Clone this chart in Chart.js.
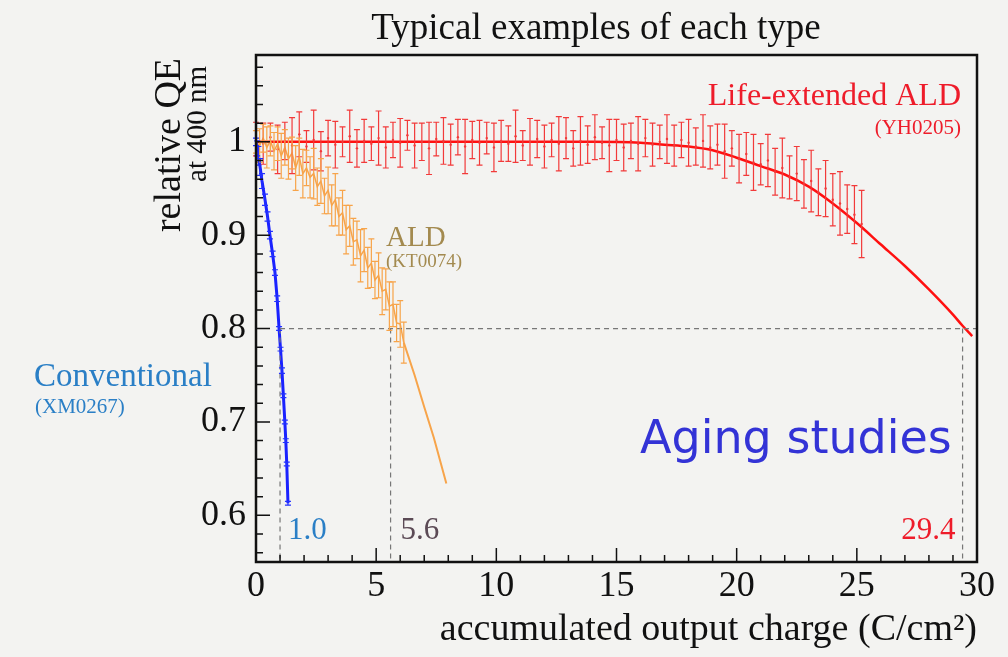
<!DOCTYPE html>
<html lang="en">
<head>
<meta charset="UTF-8" />
<title>Typical examples of each type</title>
<script src="https://cdn.jsdelivr.net/npm/chart.js"></script>
<style>
    html, body { margin: 0; padding: 0; background: #f3f3f1; }
    #wrap { width: 1008px; height: 657px; position: relative; }
</style>
</head>
<body>
<div id="wrap"><canvas id="qeChart"></canvas></div>
<script>
// ---- data ----
const yTickValues = [0.6, 0.7, 0.8, 0.9, 1.0];
const yTickLabels = ["0.6", "0.7", "0.8", "0.9", "1"];
const xTickValues = [0, 5, 10, 15, 20, 25, 30];
const xTickLabels = ["0", "5", "10", "15", "20", "25", "30"];

// Conventional (XM0267)
const convX = [0, 0.05, 0.1, 0.17, 0.25, 0.375, 0.48, 0.58, 0.69, 0.79, 0.88, 0.96, 1.02, 1.08, 1.14, 1.2, 1.24, 1.28, 1.33];
const convY = [1.0, 0.993, 0.985, 0.973, 0.958, 0.938, 0.92, 0.9, 0.88, 0.86, 0.832, 0.8, 0.778, 0.755, 0.728, 0.7, 0.68, 0.655, 0.613];
const convErr = [0.004, 0.008, 0.01, 0.009, 0.008, 0.006, 0.005, 0.004, 0.003, 0.003, 0.003, 0.002, 0.002, 0.003, 0.002, 0.002, 0.002, 0.002, 0.002];

// ALD (KT0074)
const aldX = [0, 0.15, 0.3, 0.45, 0.6, 0.75, 0.9, 1.05, 1.2, 1.35,
    1.5, 1.65, 1.8, 1.95, 2.1, 2.25, 2.4, 2.55, 2.7, 2.85,
    3.0, 3.15, 3.3, 3.45, 3.6, 3.75, 3.9, 4.05, 4.2, 4.35,
    4.5, 4.65, 4.8, 4.95, 5.1, 5.25, 5.4, 5.55, 5.7, 5.85,
    6.0, 6.15];
const aldY = [1.0, 0.996, 1.004, 0.994, 1.001, 0.99, 0.998, 0.985, 0.994, 0.982,
    0.988, 0.972, 0.984, 0.966, 0.972, 0.962, 0.966, 0.952, 0.958, 0.942,
    0.948, 0.932, 0.938, 0.92, 0.924, 0.906, 0.91, 0.893, 0.895, 0.878,
    0.884, 0.865, 0.87, 0.852, 0.857, 0.84, 0.842, 0.824, 0.826, 0.806,
    0.805, 0.785];
const aldErr = [0.012, 0.018, 0.015, 0.022, 0.016, 0.02, 0.018, 0.024, 0.019, 0.022,
    0.017, 0.024, 0.02, 0.026, 0.019, 0.022, 0.027, 0.02, 0.024, 0.019,
    0.025, 0.022, 0.028, 0.02, 0.024, 0.026, 0.022, 0.025, 0.02, 0.028,
    0.023, 0.022, 0.026, 0.02, 0.024, 0.025, 0.022, 0.026, 0.024, 0.02,
    0.025, 0.022];
const aldTailX = [6.15, 6.6, 7.0, 7.4, 7.92];
const aldTailY = [0.785, 0.75, 0.716, 0.683, 0.634];

// Life-extended ALD (YH0205)
const lifeX = [0.0, 0.3, 0.6, 0.9, 1.2, 1.5, 1.8, 2.1, 2.4, 2.7,
    3.0, 3.3, 3.6, 3.9, 4.2, 4.5, 4.8, 5.1, 5.4, 5.7,
    6.0, 6.3, 6.6, 6.9, 7.2, 7.5, 7.8, 8.1, 8.4, 8.7,
    9.0, 9.3, 9.6, 9.9, 10.2, 10.5, 10.8, 11.1, 11.4, 11.7,
    12.0, 12.3, 12.6, 12.9, 13.2, 13.5, 13.8, 14.1, 14.4, 14.7,
    15.0, 15.3, 15.6, 15.9, 16.2, 16.5, 16.8, 17.1, 17.4, 17.7,
    18.0, 18.3, 18.6, 18.9, 19.2, 19.5, 19.8, 20.1, 20.4, 20.7,
    21.0, 21.3, 21.6, 21.9, 22.2, 22.5, 22.8, 23.1, 23.4, 23.7,
    24.0, 24.3, 24.6, 24.9, 25.2];
const lifeY = [1.003, 0.998, 1.005, 0.992, 1.001, 0.996, 1.008, 0.995, 1.002, 0.99,
    1.004, 0.997, 1.0, 1.006, 0.993, 1.001, 0.998, 1.004, 0.994, 1.002,
    0.999, 1.007, 0.996, 1.0, 0.993, 1.003, 1.001, 0.997, 1.005, 0.995,
    1.002, 0.999, 1.004, 0.994, 1.001, 0.998, 1.006, 0.996, 1.0, 1.003,
    0.995, 1.002, 0.998, 1.004, 0.993, 1.001, 0.997, 1.005, 0.999, 0.996,
    1.002, 0.994, 1.001, 0.998, 1.004, 0.997, 1.0, 1.003, 0.996, 1.002,
    0.999, 0.995, 1.001, 0.994, 0.997, 0.99, 0.993, 0.982, 0.987, 0.978,
    0.976, 0.98, 0.968, 0.972, 0.962, 0.966, 0.955, 0.958, 0.946, 0.95,
    0.938, 0.934, 0.928, 0.922, 0.912];
const lifeErr = [0.018, 0.022, 0.015, 0.026, 0.02, 0.03, 0.024, 0.017, 0.032, 0.021,
    0.019, 0.025, 0.016, 0.028, 0.02, 0.023, 0.018, 0.029, 0.022, 0.019,
    0.026, 0.016, 0.024, 0.02, 0.028, 0.018, 0.025, 0.022, 0.019, 0.029,
    0.02, 0.024, 0.017, 0.026, 0.022, 0.019, 0.028, 0.016, 0.025, 0.02,
    0.023, 0.018, 0.029, 0.022, 0.019, 0.026, 0.02, 0.024, 0.017, 0.028,
    0.022, 0.025, 0.019, 0.029, 0.02, 0.023, 0.018, 0.026, 0.022, 0.019,
    0.025, 0.02, 0.028, 0.023, 0.022, 0.029, 0.019, 0.026, 0.023, 0.03,
    0.022, 0.028, 0.025, 0.032, 0.023, 0.029, 0.026, 0.033, 0.025, 0.03,
    0.028, 0.034, 0.026, 0.031, 0.036];
const lifeFitX = [0, 5, 10, 14, 16, 17, 18, 19, 20, 21, 22, 23, 24, 25, 26, 27, 28, 29, 29.4, 29.8];
const lifeFitY = [1.0, 1.0, 1.0, 1.0, 0.999, 0.997, 0.995, 0.991, 0.983, 0.974, 0.965, 0.952, 0.934, 0.913, 0.89, 0.867, 0.842, 0.815, 0.803, 0.792];

// 80% threshold and where each tube reaches it
const threshold = 0.8;
const crossX = [1.0, 5.6, 29.4];
const crossLabels = ["1.0", "5.6", "29.4"];

const Y_MIN = 0.55, Y_MAX = 1.093;
const SERIF = "'Liberation Serif', 'DejaVu Serif', serif";

function pts(xs, ys) { return xs.map((x, i) => ({ x: x, y: ys[i] })); }

const dashed = { borderColor: "#777", borderWidth: 1.2, borderDash: [5, 4], pointRadius: 0, showLine: true, fill: false };

const datasets = [
    Object.assign({ label: "thr", data: [{ x: crossX[0], y: threshold }, { x: 30, y: threshold }] }, dashed),
    Object.assign({ label: "v1", data: [{ x: crossX[0], y: threshold }, { x: crossX[0], y: Y_MIN }] }, dashed),
    Object.assign({ label: "v2", data: [{ x: crossX[1], y: threshold }, { x: crossX[1], y: Y_MIN }] }, dashed),
    Object.assign({ label: "v3", data: [{ x: crossX[2], y: threshold }, { x: crossX[2], y: Y_MIN }] }, dashed),
    { label: "Life-extended ALD", data: pts(lifeX, lifeY), errors: lifeErr, errColor: "#f23a3a",
      showLine: false, pointRadius: 1.2, pointBackgroundColor: "#f23a3a", pointBorderWidth: 0 },
    { label: "ALD", data: pts(aldX, aldY), errors: aldErr, errColor: "#f7a44a",
      showLine: true, borderColor: "#f7a44a", borderWidth: 1.5, pointRadius: 0 },
    { label: "ALD tail", data: pts(aldTailX, aldTailY), showLine: true, borderColor: "#f7a44a", borderWidth: 2, pointRadius: 0 },
    { label: "Life-extended fit", data: pts(lifeFitX, lifeFitY), showLine: true, borderColor: "#ff1010",
      borderWidth: 2.5, pointRadius: 0, tension: 0.4, cubicInterpolationMode: "monotone" },
    { label: "Conventional", data: pts(convX, convY), errors: convErr, errColor: "#2230ff",
      showLine: true, borderColor: "#1a22ff", borderWidth: 3, pointRadius: 0 }
];

// error bars, frame, inward ticks and text labels
const decoPlugin = {
    id: "deco",
    afterDatasetsDraw(chart) {
        const ctx = chart.ctx, xs = chart.scales.x, ys = chart.scales.y, a = chart.chartArea;
        ctx.save();
        chart.data.datasets.forEach(ds => {
            if (!ds.errors) return;
            ctx.strokeStyle = ds.errColor;
            ctx.lineWidth = 1.2;
            ds.data.forEach((p, i) => {
                const px = xs.getPixelForValue(p.x);
                const top = ys.getPixelForValue(p.y + ds.errors[i]);
                const bot = ys.getPixelForValue(p.y - ds.errors[i]);
                ctx.beginPath();
                ctx.moveTo(px, top); ctx.lineTo(px, bot);
                ctx.moveTo(px - 3, top); ctx.lineTo(px + 3, top);
                ctx.moveTo(px - 3, bot); ctx.lineTo(px + 3, bot);
                ctx.stroke();
            });
        });

        // frame
        ctx.strokeStyle = "#111";
        ctx.lineWidth = 2.5;
        ctx.strokeRect(a.left, a.top, a.right - a.left, a.bottom - a.top);

        // inward ticks
        ctx.lineWidth = 1.5;
        ctx.beginPath();
        for (let k = 0; k <= 30; k++) {
            const px = xs.getPixelForValue(k);
            const len = k % 5 === 0 ? 14 : 7;
            ctx.moveTo(px, a.bottom); ctx.lineTo(px, a.bottom - len);
        }
        for (let k = 28; k <= 54; k++) {
            const v = k / 50;
            const py = ys.getPixelForValue(v);
            if (py < a.top) continue;
            const len = k % 5 === 0 ? 14 : 7;
            ctx.moveTo(a.left, py); ctx.lineTo(a.left + len, py);
        }
        ctx.stroke();

        // title
        ctx.fillStyle = "#111";
        ctx.textAlign = "center";
        ctx.textBaseline = "middle";
        ctx.font = "37px " + SERIF;
        ctx.fillText("Typical examples of each type", 596, 29);

        // y axis title
        ctx.save();
        ctx.translate(170, 145);
        ctx.rotate(-Math.PI / 2);
        ctx.font = "38px " + SERIF;
        ctx.fillText("relative QE", 0, 0);
        ctx.restore();
        ctx.save();
        ctx.translate(198, 124);
        ctx.rotate(-Math.PI / 2);
        ctx.font = "29px " + SERIF;
        ctx.fillText("at 400 nm", 0, 0);
        ctx.restore();

        // series labels
        ctx.textBaseline = "alphabetic";
        ctx.textAlign = "right";
        ctx.fillStyle = "#ee1c2a";
        ctx.font = "32px " + SERIF;
        ctx.fillText("Life-extended ALD", 961, 105);
        ctx.font = "21px " + SERIF;
        ctx.fillText("(YH0205)", 961, 134);

        ctx.textAlign = "left";
        ctx.fillStyle = "#a38a4f";
        ctx.font = "29px " + SERIF;
        ctx.fillText("ALD", 386, 246);
        ctx.font = "19px " + SERIF;
        ctx.fillText("(KT0074)", 386, 267);

        ctx.fillStyle = "#2a7fc6";
        ctx.font = "33px " + SERIF;
        ctx.fillText("Conventional", 34, 386);
        ctx.font = "21px " + SERIF;
        ctx.fillText("(XM0267)", 35, 413);

        ctx.fillStyle = "#3333d6";
        ctx.font = "46px 'DejaVu Sans', sans-serif";
        ctx.fillText("Aging studies", 640, 453);

        // crossing values
        ctx.font = "31px " + SERIF;
        ctx.fillStyle = "#2a7fc6";
        ctx.fillText(crossLabels[0], xs.getPixelForValue(crossX[0]) + 8, 539);
        ctx.fillStyle = "#5b4a55";
        ctx.fillText(crossLabels[1], xs.getPixelForValue(crossX[1]) + 10, 539);
        ctx.fillStyle = "#ee1c2a";
        ctx.textAlign = "right";
        ctx.fillText(crossLabels[2], xs.getPixelForValue(crossX[2]) - 7, 539);
        ctx.restore();
    }
};

new Chart(document.getElementById("qeChart"), {
    type: "scatter",
    data: { datasets: datasets },
    options: {
        responsive: true,
        maintainAspectRatio: false,
        animation: false,
        layout: { padding: { left: 0, top: 55, right: 31, bottom: 0 } },
        plugins: { legend: { display: false }, tooltip: { enabled: false }, title: { display: false } },
        scales: {
            x: {
                type: "linear", min: 0, max: 30,
                grid: { display: false, drawTicks: false },
                border: { display: false },
                afterBuildTicks: s => { s.ticks = xTickValues.map(v => ({ value: v })); },
                afterFit: s => { s.height = 95; },
                ticks: {
                    color: "#111", padding: 3, maxRotation: 0,
                    font: { family: SERIF, size: 36 },
                    callback: (v) => xTickLabels[xTickValues.indexOf(v)]
                },
                title: {
                    display: true, align: "end", color: "#111",
                    text: "accumulated output charge (C/cm\u00b2)",
                    font: { family: SERIF, size: 38 }, padding: { top: -5 }
                }
            },
            y: {
                type: "linear", min: Y_MIN, max: Y_MAX,
                grid: { display: false, drawTicks: false },
                border: { display: false },
                afterBuildTicks: s => { s.ticks = yTickValues.map(v => ({ value: v })); },
                afterFit: s => { s.width = 256; },
                ticks: {
                    color: "#111", padding: 10,
                    font: { family: SERIF, size: 36 },
                    callback: (v) => yTickLabels[yTickValues.indexOf(v)]
                }
            }
        }
    },
    plugins: [decoPlugin]
});
</script>
</body>
</html>
